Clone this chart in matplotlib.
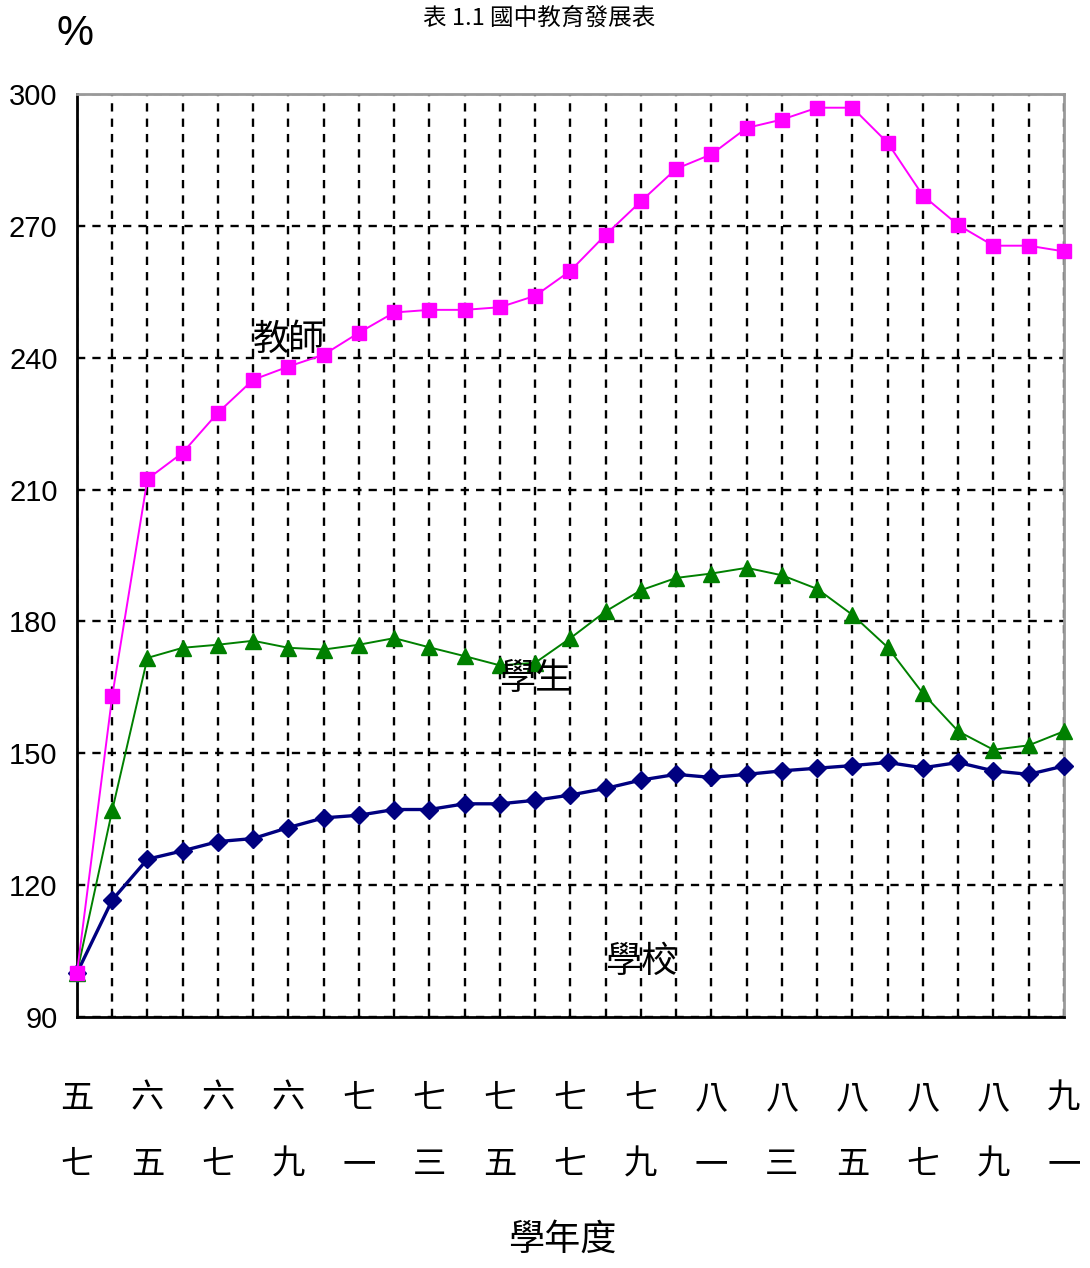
import matplotlib.pyplot as plt

# 學年度 index positions (五七, then 六四 ... 九一)
x_idx = list(range(29))
tick_pos = list(range(0, 29, 2))
tick_labels = ["五\n七", "六\n五", "六\n七", "六\n九", "七\n一", "七\n三", "七\n五", "七\n七",
               "七\n九", "八\n一", "八\n三", "八\n五", "八\n七", "八\n九", "九\n一"]

teachers = [100, 163, 212.4, 218.4, 227.5, 235, 238, 240.7, 245.7, 250.3, 250.9, 250.9,
            251.5, 254.1, 259.8, 268.0, 275.6, 283.0, 286.3, 292.3, 294.2, 296.9, 296.9,
            288.9, 276.9, 270.2, 265.5, 265.5, 264.2]
students = [100, 137, 171.7, 174, 174.7, 175.6, 174, 173.6, 174.7, 176.2, 174.1, 172.1,
            170, 170.6, 176.2, 182.3, 187.1, 189.9, 190.9, 192.2, 190.5, 187.4, 181.5,
            174.1, 163.6, 155, 150.8, 151.8, 155]
schools = [100, 116.6, 125.9, 127.8, 129.9, 130.6, 133.1, 135.3, 135.9, 137.2, 137.2, 138.5,
           138.5, 139.3, 140.5, 142, 143.9, 145.2, 144.5, 145.2, 146, 146.6, 147.2, 147.9,
           146.7, 147.9, 146, 145.2, 147.1]
y_ticks = [90, 120, 150, 180, 210, 240, 270, 300]

cjk = ["Noto Sans CJK TC", "DejaVu Sans"]
num_font = "Liberation Sans"

fig = plt.figure(figsize=(10.9, 12.68), dpi=100)
ax = fig.add_axes([0.0706, 0.198, 0.9055, 0.7278])

ax.plot(x_idx, schools, color="#000080", lw=2.4, marker="D", ms=9, zorder=3, clip_on=False)
ax.plot(x_idx, students, color="#008000", lw=1.4, marker="^", ms=11, zorder=4, clip_on=False)
ax.plot(x_idx, teachers, color="#ff00ff", lw=1.4, marker="s", ms=10, zorder=5, clip_on=False)

ax.set_xlim(0, 28)
ax.set_ylim(90, 300)
ax.set_xticks(x_idx, minor=True)
ax.set_xticks(tick_pos)
ax.set_xticklabels(tick_labels, family=cjk, fontsize=24, linespacing=2.15)
ax.set_yticks(y_ticks)
ax.set_yticklabels([str(v) for v in y_ticks], family=num_font, fontsize=21)
ax.tick_params(axis="x", which="both", length=0, pad=46)
ax.tick_params(axis="y", length=0, pad=14)

ax.grid(True, which="both", axis="x", color="black", ls=(0, (3.5, 3)), lw=1.7)
ax.grid(True, which="major", axis="y", color="black", ls=(0, (3.5, 3)), lw=1.7)

for side in ["left", "bottom"]:
    ax.spines[side].set_linewidth(2)
    ax.spines[side].set_color("black")
for side in ["top", "right"]:
    ax.spines[side].set_linewidth(2)
    ax.spines[side].set_color("#999999")

ax.text(6.0, 244, "教師", family=cjk, fontsize=26, ha="center", va="center", zorder=6)
ax.text(13.0, 167, "學生", family=cjk, fontsize=26, ha="center", va="center", zorder=6)
ax.text(16.0, 102.5, "學校", family=cjk, fontsize=26, ha="center", va="center", zorder=6)

fig.text(0.495, 0.986, "表 1.1 國中教育發展表", family=cjk, fontsize=17, ha="center", va="center")
fig.text(0.069, 0.973, "%", family=num_font, fontsize=30, ha="center", va="center")
fig.text(0.516, 0.022, "學年度", family=cjk, fontsize=26, ha="center", va="center")

fig.savefig("out.png", dpi=100, facecolor="white")
